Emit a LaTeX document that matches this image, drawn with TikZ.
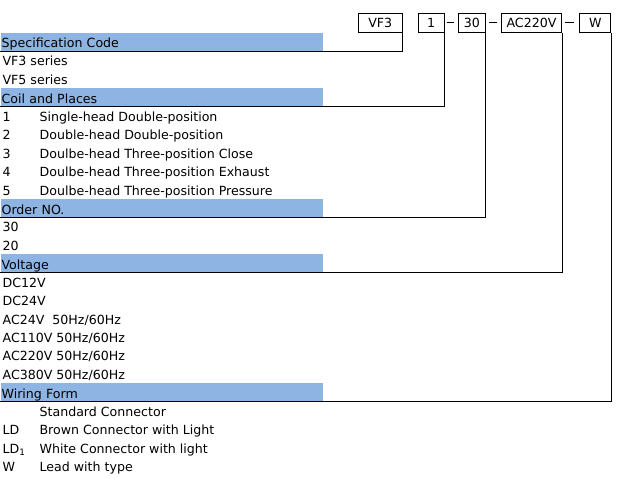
\documentclass[tikz,border=0pt]{standalone}
\usepackage{fontspec}
\setmainfont{DejaVu Sans}
\usepackage{tikz}
\definecolor{barblue}{HTML}{8DB4E2}

\begin{document}
\begin{tikzpicture}[x=1pt, y=-1pt, line width=1.2pt, font=\fontsize{12.6}{14}\selectfont]

\useasboundingbox (0,0) rectangle (626,477);

% code boxes on top
\tikzstyle{every node}=[rectangle, draw=black, line width=1pt, minimum height=19pt, inner sep=0pt]
\draw    (380.3, 22.8)  node[minimum width=44pt]   (bVF)  {VF3}
         (431.2, 22.8)  node[minimum width=25.7pt] (bCoil) {1}
         (471.8, 22.8)  node[minimum width=27pt]   (bOrder) {30}
         (531.5, 22.8)  node[minimum width=60.4pt] (bVolt) {AC220V}
         (595.3, 22.8)  node[minimum width=30.7pt] (bWire) {W};

% header bars
\tikzstyle{every node}=[rectangle, fill=barblue, draw=none, anchor=north west,
    text width=320pt, align=left, inner xsep=1pt, inner ysep=0pt,
    minimum height=18pt, text height=15.3pt, text depth=2.7pt]
\draw    (0,  32.0)   node (hSpec)  {Specification Code}
         (0,  87.4)   node (hCoil)  {Coil and Places}
         (0,  198.1)  node (hOrder) {Order NO.}
         (0,  253.4)  node (hVolt)  {Voltage}
         (0,  382.6)  node (hWire)  {Wiring Form};

% items
\tikzstyle{every node}=[anchor=base west, inner sep=0pt]
\draw    (2,  65.8)   node (sVF3) {VF3 series}
         (2,  84.2)   node (sVF5) {VF5 series};

\draw    (2,  121.4)  node (cA) {1}
         (2,  139.8)  node (cB) {2}
         (2,  158.2)  node (cC) {3}
         (2,  176.6)  node (cD) {4}
         (2,  195.0)  node (cE) {5}
         (39, 121.4)  node (tA) {Single-head Double-position}
         (39, 139.8)  node (tB) {Double-head Double-position}
         (39, 158.2)  node (tC) {Doulbe-head Three-position Close}
         (39, 176.6)  node (tD) {Doulbe-head Three-position Exhaust}
         (39, 195.0)  node (tE) {Doulbe-head Three-position Pressure};

\draw    (2,  231.8)  node (oA) {30}
         (2,  250.2)  node (oB) {20};

\draw    (2,  287.1)  node (vA) {DC12V}
         (2,  305.6)  node (vB) {DC24V}
         (2,  324.0)  node (vC) {AC24V\ \ 50Hz/60Hz}
         (2,  342.5)  node (vD) {AC110V 50Hz/60Hz}
         (2,  360.9)  node (vE) {AC220V 50Hz/60Hz}
         (2,  379.4)  node (vF) {AC380V 50Hz/60Hz};

\draw    (39, 416.3)  node (wA) {Standard Connector}
         (2,  434.7)  node (wLD) {LD}
         (2,  453.2)  node (wLDi) {LD\textsubscript{1}}
         (2,  471.6)  node (wW) {W}
         (39, 434.7)  node (tLD) {Brown Connector with Light}
         (39, 453.2)  node (tLDi) {White Connector with light}
         (39, 471.6)  node (tW) {Lead with type};

% dashes between boxes
\draw[line width=1pt, shorten <=2pt, shorten >=4pt] (bCoil.east) -- (bOrder.west);
\draw[line width=1pt, shorten <=3pt, shorten >=4pt] (bOrder.east) -- (bVolt.west);
\draw[line width=1pt, shorten <=3pt, shorten >=5pt] (bVolt.east) -- (bWire.west);

% connectors
\draw (bVF.south east)    |- (hSpec.south west);
\draw (bCoil.south east)  |- (hCoil.south west);
\draw (bOrder.south east) |- (hOrder.south west);
\draw (bVolt.south east)  |- (hVolt.south west);
\draw (bWire.south east)  |- (hWire.south west);

\end{tikzpicture}
\end{document}
